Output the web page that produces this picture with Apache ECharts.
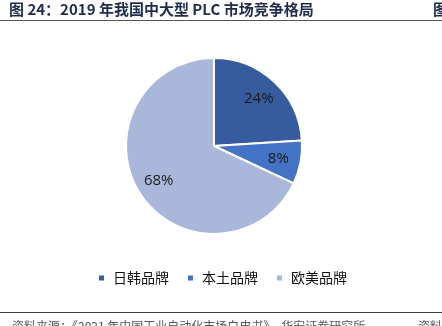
<!DOCTYPE html>
<html>
<head>
<meta charset="utf-8">
<script src="https://cdn.jsdelivr.net/npm/echarts@6/dist/echarts.min.js"></script>
<style>
  html, body { margin: 0; padding: 0; background: #fff; }
  #chart { width: 442px; height: 326px; }
</style>
</head>
<body>
<div id="chart"></div>
<script>
// 2019 年中大型 PLC 市场份额
const brands = ['日韩品牌', '本土品牌', '欧美品牌'];
const shares = [24, 8, 68];
const colors = ['#365C9F', '#4472C4', '#A9B7DA'];

const titleText = '图 24：2019 年我国中大型 PLC 市场竞争格局';
const sourceText = '资料来源：《2021 年中国工业自动化市场白皮书》，华安证券研究所';

const pieData = brands.map((name, i) => ({
  name: name,
  value: shares[i],
  itemStyle: { color: colors[i] }
}));

const chart = echarts.init(document.getElementById('chart'), null, { renderer: 'canvas' });

const CJK = '"Noto Sans CJK SC", "Noto Sans", sans-serif';
const center = [214, 146];
const R = 88;

chart.setOption({
  animation: false,
  backgroundColor: '#ffffff',
  legend: {
    data: brands,
    bottom: 36,
    left: 92,
    icon: 'rect',
    itemWidth: 7,
    itemHeight: 7,
    itemGap: 17,
    textStyle: { fontFamily: CJK, fontSize: 14, color: '#111', padding: [0, 0, 0, 3] }
  },
  series: [
    {
      type: 'pie',
      center: center,
      radius: [0, R],
      startAngle: 90,
      clockwise: true,
      silent: true,
      itemStyle: { borderColor: '#ffffff', borderWidth: 2 },
      label: { show: false },
      labelLine: { show: false },
      data: pieData
    },
    {
      // transparent ring used only to seat the percentage labels
      type: 'pie',
      center: center,
      radius: [R * 0.42, R],
      startAngle: 90,
      clockwise: true,
      silent: true,
      legendHoverLink: false,
      itemStyle: { color: 'rgba(0,0,0,0)', borderWidth: 0 },
      label: {
        show: true,
        position: 'inside',
        formatter: '{c}%',
        fontFamily: '"Open Sans", "Noto Sans", sans-serif',
        fontSize: 15,
        color: '#1a1a1a'
      },
      labelLine: { show: false },
      data: brands.map((name, i) => ({ name: name, value: shares[i] }))
    }
  ],
  graphic: [
    {
      type: 'text',
      left: 9,
      top: 2,
      style: {
        text: titleText,
        font: 'bold 15px ' + CJK,
        fill: '#1F2C4C'
      }
    },
    {
      type: 'text',
      left: 433,
      top: 2,
      style: { text: '图', font: 'bold 15px ' + CJK, fill: '#1F2C4C' }
    },
    {
      type: 'line',
      shape: { x1: 0, y1: 20.5, x2: 442, y2: 20.5 },
      style: { stroke: '#555', lineWidth: 1.2 }
    },
    {
      type: 'line',
      shape: { x1: 0, y1: 312.5, x2: 442, y2: 312.5 },
      style: { stroke: '#444', lineWidth: 1.2 }
    },
    {
      type: 'text',
      left: 12,
      top: 320,
      style: { text: sourceText, font: '12px ' + CJK, fill: '#555' }
    },
    {
      type: 'text',
      left: 418,
      top: 320,
      style: { text: '资料', font: '12px ' + CJK, fill: '#555' }
    }
  ]
});
</script>
</body>
</html>
